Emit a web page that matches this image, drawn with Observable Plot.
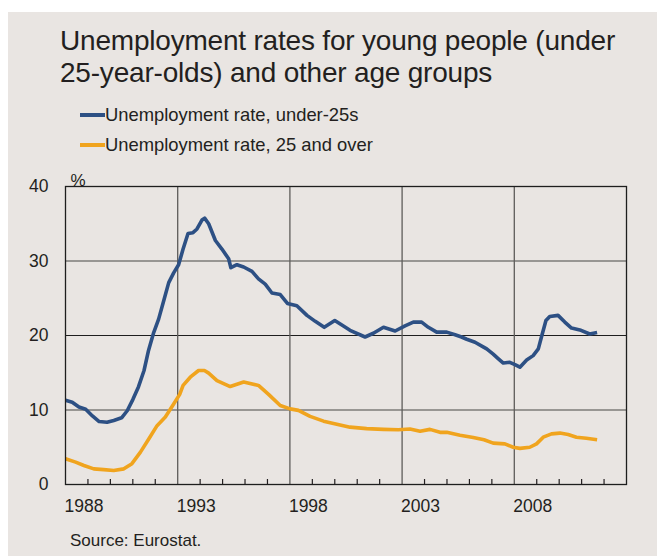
<!DOCTYPE html>
<html>
<head>
<meta charset="utf-8">
<script src="https://cdn.jsdelivr.net/npm/d3@7"></script>
<script src="https://cdn.jsdelivr.net/npm/@observablehq/plot@0.6"></script>
<style>
  html, body { margin: 0; padding: 0; background: #ffffff; }
  body { width: 657px; height: 556px; position: relative; overflow: hidden;
         font-family: "Liberation Sans", Arial, Helvetica, sans-serif; color: #231f20; }
  #panel { position: absolute; left: 8px; top: 12px; width: 649px; height: 544px; background: #e9e5e2; }
  .title { position: absolute; left: 60px; font-size: 28px; line-height: 1; white-space: nowrap; letter-spacing: -0.2px; }
  .legend { position: absolute; left: 80px; font-size: 18.4px; line-height: 1; white-space: nowrap; display: flex; align-items: center; }
  .legend .sw { display: inline-block; width: 25px; height: 3.5px; margin-right: 0px; }
  #chart { position: absolute; left: 0; top: 170px; }
  .source { position: absolute; left: 70px; top: 532px; font-size: 17px; line-height: 1; white-space: nowrap; }
</style>
</head>
<body>
<div id="panel"></div>
<div class="title" style="top:27px">Unemployment rates for young people (under</div>
<div class="title" style="top:59px">25-year-olds) and other age groups</div>
<div class="legend" style="top:106px"><span class="sw" style="background:#2d5084"></span>Unemployment rate, under-25s</div>
<div class="legend" style="top:136px"><span class="sw" style="background:#f0a41e"></span>Unemployment rate, 25 and over</div>
<div id="chart"></div>
<div class="source">Source: Eurostat.</div>
<script>
// ---- data ----
const seriesNames = ["Unemployment rate, under-25s", "Unemployment rate, 25 and over"];

const youngYears = [1988.0, 1988.3, 1988.6, 1988.9, 1989.2, 1989.5, 1989.85, 1990.15, 1990.5, 1990.75,
  1991.0, 1991.25, 1991.5, 1991.7, 1991.93, 1992.15, 1992.38, 1992.6, 1992.82, 1993.04,
  1993.24, 1993.46, 1993.68, 1993.86, 1994.08, 1994.2, 1994.38, 1994.68, 1994.97, 1995.27,
  1995.37, 1995.64, 1995.94, 1996.31, 1996.6, 1996.9, 1997.2, 1997.57, 1997.89, 1998.31,
  1998.76, 1999.13, 1999.53, 2000.0, 2000.42, 2000.68, 2001.35, 2001.72, 2002.17, 2002.69,
  2003.13, 2003.5, 2003.87, 2004.17, 2004.54, 2004.99, 2005.36, 2005.65, 2005.88, 2006.25,
  2006.65, 2006.77, 2007.06, 2007.28, 2007.51, 2007.8, 2008.03, 2008.25, 2008.55, 2008.84,
  2009.07, 2009.21, 2009.41, 2009.58, 2009.95, 2010.25, 2010.55, 2010.92, 2011.36, 2011.69];
const youngRate = [11.3, 11.05, 10.4, 10.1, 9.2, 8.45, 8.35, 8.6, 8.95, 9.9,
  11.4, 13.1, 15.3, 18.0, 20.4, 22.2, 24.7, 27.1, 28.4, 29.5,
  31.6, 33.7, 33.8, 34.3, 35.5, 35.75, 35.0, 32.75, 31.6, 30.3,
  29.1, 29.5, 29.2, 28.6, 27.6, 26.9, 25.7, 25.5, 24.3, 24.0,
  22.7, 21.9, 21.1, 22.0, 21.2, 20.7, 19.8, 20.3, 21.1, 20.6,
  21.3, 21.8, 21.8, 21.1, 20.45, 20.45, 20.1, 19.8, 19.5, 19.1,
  18.4, 18.2, 17.5, 16.9, 16.3, 16.4, 16.1, 15.75, 16.7, 17.3,
  18.2, 19.8, 22.0, 22.55, 22.7, 21.8, 21.0, 20.75, 20.2, 20.4];

const olderYears = [1988.0, 1988.45, 1988.82, 1989.26, 1989.7, 1990.15, 1990.6, 1990.96, 1991.34, 1991.71,
  1992.08, 1992.45, 1992.82, 1993.09, 1993.24, 1993.56, 1993.93, 1994.19, 1994.38, 1994.75,
  1995.34, 1995.94, 1996.6, 1997.05, 1997.57, 1998.01, 1998.38, 1998.9, 1999.5, 2000.09,
  2000.68, 2001.42, 2002.17, 2002.83, 2003.35, 2003.8, 2004.24, 2004.69, 2004.99, 2005.58,
  2006.17, 2006.65, 2007.06, 2007.58, 2007.95, 2008.25, 2008.69, 2008.99, 2009.29, 2009.66,
  2010.03, 2010.4, 2010.77, 2011.21, 2011.69];
const olderRate = [3.45, 3.0, 2.55, 2.1, 2.0, 1.88, 2.1, 2.8, 4.35, 6.1,
  7.9, 9.05, 10.8, 12.1, 13.3, 14.4, 15.3, 15.3, 14.95, 13.95,
  13.15, 13.75, 13.3, 12.1, 10.6, 10.15, 9.95, 9.15, 8.5, 8.1,
  7.7, 7.5, 7.4, 7.35, 7.45, 7.15, 7.4, 7.0, 7.0, 6.6,
  6.3, 6.0, 5.55, 5.45, 5.0, 4.85, 5.0, 5.45, 6.35, 6.8,
  6.9, 6.7, 6.35, 6.2, 6.0];

const xDomain = [1988, 2013];
const yDomain = [0, 40];
const tickYears = [1989, 1990, 1991, 1992, 1994, 1995, 1996, 1997, 1999, 2000,
  2001, 2002, 2004, 2005, 2006, 2007, 2009, 2010, 2011, 2012];
const labelYears = [1988, 1993, 1998, 2003, 2008];
const yTicks = [0, 10, 20, 30, 40];
const yGridGrey = [10, 30];
const yGridDark = [20];
const xGrid = [1993, 1998, 2003, 2008];
const unitLabel = "%";

// ---- build ----
const young = youngYears.map((t, i) => ({t, v: youngRate[i], s: seriesNames[0]}));
const older = olderYears.map((t, i) => ({t, v: olderRate[i], s: seriesNames[1]}));

const chart = Plot.plot({
  width: 657,
  height: 354,
  marginLeft: 65,
  marginRight: 31,
  marginTop: 16,
  marginBottom: 40,
  style: {background: "transparent", fontFamily: "'Liberation Sans', Arial, sans-serif", fontSize: "17.5px", color: "#231f20"},
  x: {domain: xDomain},
  y: {domain: yDomain},
  marks: [
    Plot.gridY(yGridGrey, {stroke: "#7d7b79", strokeOpacity: 1, strokeWidth: 1.3}),
    Plot.gridY(yGridDark, {stroke: "#1e1e1e", strokeOpacity: 1, strokeWidth: 1.1}),
    Plot.gridX(xGrid, {stroke: "#5e5c5a", strokeOpacity: 1, strokeWidth: 1.3}),
    Plot.ruleX(tickYears, {insetTop: 293, stroke: "#231f20", strokeWidth: 1.2}),
    Plot.axisX({ticks: labelYears, tickSize: 0, tickPadding: 15, tickFormat: d => String(d), textAnchor: "start", dx: -1, fontSize: 17.5, label: null}),
    Plot.axisY({ticks: yTicks, tickSize: 0, tickPadding: 17, fontSize: 17.5, label: null}),
    Plot.text([unitLabel], {frameAnchor: "top-left", dx: 5, dy: -13, fontSize: 17, fill: "#231f20"}),
    Plot.line(older, {x: "t", y: "v", stroke: "#f0a41e", strokeWidth: 3.6, strokeLinejoin: "round", strokeLinecap: "butt"}),
    Plot.line(young, {x: "t", y: "v", stroke: "#2d5084", strokeWidth: 3.6, strokeLinejoin: "round", strokeLinecap: "butt"}),
    Plot.frame({stroke: "#1e1e1e", strokeWidth: 1.3})
  ]
});
document.getElementById("chart").appendChild(chart);
</script>
</body>
</html>
